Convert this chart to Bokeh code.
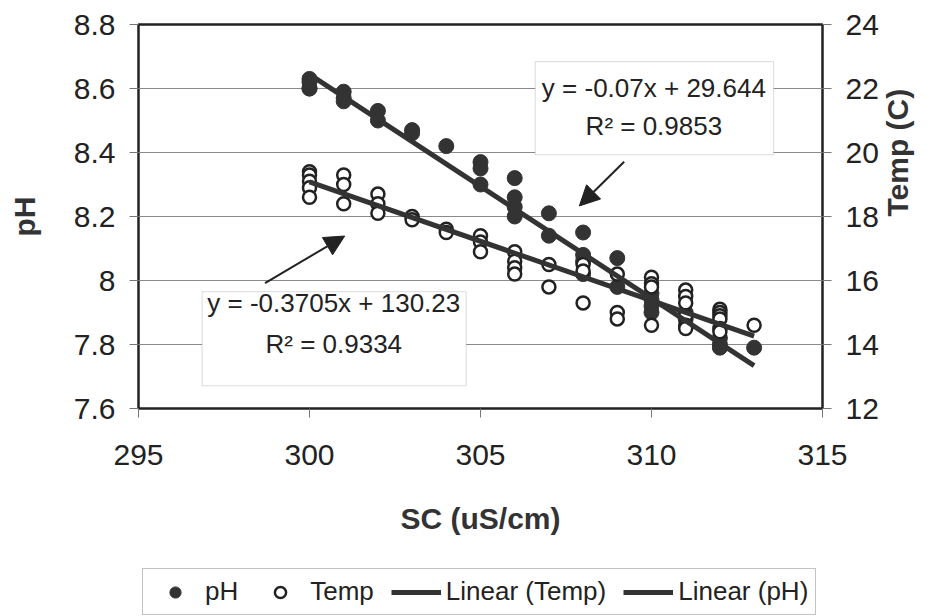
import math
from bokeh.plotting import figure
from bokeh.layouts import column
from bokeh.models import (Range1d, LinearAxis, Legend, LegendItem, BoxAnnotation,
                          Label, Arrow, NormalHead, FixedTicker)
from bokeh.embed import file_html
from bokeh.resources import INLINE

# ---- data ----
sc_ph = [300, 300, 300, 300, 301, 301, 301, 302, 302, 303, 303, 304,
         305, 305, 305, 306, 306, 306, 306, 307, 307, 308, 308, 308, 308,
         309, 309, 310, 310, 310, 310, 311, 311, 312, 312, 312, 313]
ph = [8.63, 8.62, 8.60, 8.60, 8.59, 8.57, 8.56, 8.53, 8.50, 8.47, 8.46, 8.42,
      8.37, 8.35, 8.30, 8.32, 8.26, 8.23, 8.20, 8.21, 8.14, 8.15, 8.08, 8.06, 8.02,
      8.07, 7.98, 7.96, 7.94, 7.92, 7.90, 7.90, 7.88, 7.82, 7.80, 7.79, 7.79]

sc_temp = [300, 300, 300, 300, 300, 301, 301, 301, 302, 302, 302, 303, 303,
           304, 304, 305, 305, 305, 306, 306, 306, 306, 307, 307, 308, 308, 308,
           309, 309, 309, 310, 310, 310, 310, 311, 311, 311, 311, 311, 311,
           312, 312, 312, 312, 312, 312, 313]
temp = [19.4, 19.3, 19.1, 18.9, 18.6, 19.3, 19.0, 18.4, 18.7, 18.4, 18.1, 18.0, 17.9,
        17.6, 17.5, 17.4, 17.2, 16.9, 16.9, 16.6, 16.4, 16.2, 16.5, 15.8, 16.5, 16.3, 15.3,
        16.2, 15.0, 14.8, 16.1, 15.9, 15.8, 14.6, 15.7, 15.5, 15.3, 14.9, 14.6, 14.5,
        15.1, 15.0, 14.9, 14.8, 14.5, 14.4, 14.6]

trend_sc = [300, 313]
trend_ph = [8.644, 7.734]      # y = -0.07x + 29.644
trend_temp = [19.08, 14.26]    # y = -0.3705x + 130.23

x_ticks = [295, 300, 305, 310, 315]
ph_ticks = [7.6, 7.8, 8.0, 8.2, 8.4, 8.6, 8.8]
temp_ticks = [12, 14, 16, 18, 20, 22, 24]

eq_ph = ["y = -0.07x + 29.644", "R\u00b2 = 0.9853"]
eq_temp = ["y = -0.3705x + 130.23", "R\u00b2 = 0.9334"]
legend_labels = ["pH", "Temp", "Linear (Temp)", "Linear (pH)"]

FONT = "Liberation Sans"
DARK = "#333333"
TXT = "#222222"

p = figure(width=933, height=560, output_backend="svg", toolbar_location=None,
           x_range=Range1d(295, 315), y_range=Range1d(7.6, 8.8),
           min_border_left=138, min_border_right=108, min_border_top=24,
           min_border_bottom=152)
p.extra_y_ranges = {"temp": Range1d(12, 24)}

p.outline_line_color = "#222222"
p.outline_line_width = 2.5
p.background_fill_color = "white"
p.border_fill_color = "white"

p.xgrid.visible = False
p.ygrid.ticker = FixedTicker(ticks=ph_ticks)
p.ygrid.grid_line_color = "#8a8a8a"
p.ygrid.grid_line_width = 1

def style_axis(ax, ticks, standoff):
    ax.ticker = FixedTicker(ticks=ticks)
    ax.axis_line_color = None
    ax.major_tick_in = 0
    ax.major_tick_out = 9
    ax.major_tick_line_color = "#777777"
    ax.major_tick_line_width = 1
    ax.minor_tick_line_color = None
    ax.major_label_text_font = FONT
    ax.major_label_text_font_size = "30px"
    ax.major_label_text_color = TXT
    ax.major_label_standoff = standoff
    ax.axis_label_text_font = FONT
    ax.axis_label_text_font_style = "bold"
    ax.axis_label_text_font_size = "30px"
    ax.axis_label_text_color = "#333333"

xa = p.xaxis[0]
style_axis(xa, x_ticks, 27)
xa.axis_label = "SC (uS/cm)"
xa.axis_label_standoff = 34

ya = p.yaxis[0]
style_axis(ya, ph_ticks, 14)
ya.axis_label = "pH"
ya.axis_label_standoff = 30
ya.major_label_overrides = {8.0: "8"}

ra = LinearAxis(y_range_name="temp", axis_label="Temp (C)")
style_axis(ra, temp_ticks, 14)
ra.axis_label_standoff = 16
ra.axis_label_text_line_height = 0.75
ra.axis_label_orientation = math.pi / 2
p.add_layout(ra, "right")

ph_style = dict(marker="circle", size=15, fill_color=DARK, line_color=DARK, line_width=1)
temp_style = dict(marker="circle", size=13, fill_color="white", line_color="#222222",
                  line_width=2.5)
line_style = dict(line_color=DARK, line_width=5)

p.scatter(sc_ph, ph, **ph_style)
p.scatter(sc_temp, temp, y_range_name="temp", **temp_style)
p.line(trend_sc, trend_temp, y_range_name="temp", **line_style)
p.line(trend_sc, trend_ph, **line_style)

# equation boxes
p.add_layout(BoxAnnotation(left=306.6, right=313.57, top=8.684, bottom=8.393,
                           fill_color="white", fill_alpha=1, line_color="#888888",
                           line_width=1))
p.add_layout(BoxAnnotation(left=296.86, right=304.58, top=7.965, bottom=7.671,
                           fill_color="white", fill_alpha=1, line_color="#888888",
                           line_width=1))
for (xc, y1, y2, lines) in [(310.07, 8.603, 8.484, eq_ph), (300.71, 7.929, 7.801, eq_temp)]:
    for yy, t in zip((y1, y2), lines):
        p.add_layout(Label(x=xc, y=yy, text=t, text_align="center", text_baseline="middle",
                           text_font=FONT, text_font_size="26px", text_color=TXT))

p.add_layout(Arrow(end=NormalHead(size=20, fill_color="#222222", line_color="#222222"),
                   x_start=309.2, y_start=8.371, x_end=307.89, y_end=8.233,
                   line_color="#222222", line_width=2))
p.add_layout(Arrow(end=NormalHead(size=20, fill_color="#222222", line_color="#222222"),
                   x_start=298.7, y_start=7.992, x_end=301.03, y_end=8.139,
                   line_color="#222222", line_width=2))

# ---- legend strip (separate figure below the chart) ----
lg = figure(width=933, height=56, output_backend="svg", toolbar_location=None,
            x_axis_location=None, y_axis_location=None,
            x_range=Range1d(0, 1), y_range=Range1d(0, 1),
            min_border=0, outline_line_color=None)
lg.grid.visible = False
# legend keys: one point each, kept outside the strip's visible range
key_x = [-5, -4]
key_y = [-5, -4]
k1 = lg.scatter(key_x[:1], key_y[:1], **ph_style)
k2 = lg.scatter(key_x[:1], key_y[:1], **temp_style)
k3 = lg.line(key_x, key_y, **line_style)
k4 = lg.line(key_x, key_y, **line_style)

legend = Legend(items=[LegendItem(label=t, renderers=[r])
                       for t, r in zip(legend_labels, [k1, k2, k3, k4])],
                orientation="horizontal", location=(4, 1),
                label_text_font=FONT, label_text_font_size="26px", label_text_color=TXT,
                glyph_width=50, glyph_height=28, label_height=28, label_standoff=5,
                spacing=17, padding=7, margin=0,
                border_line_color="#888888", border_line_width=1,
                background_fill_color="white", background_fill_alpha=1)
lg.add_layout(legend)

layout = column(p, lg, spacing=0)
open("out.html", "w").write(file_html(layout, INLINE))
